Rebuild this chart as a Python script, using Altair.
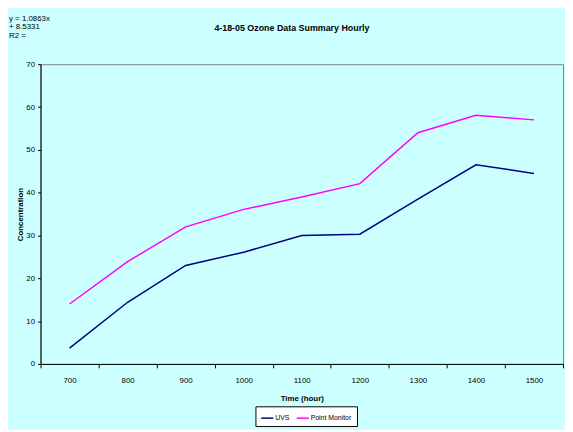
import altair as alt
import pandas as pd

hours = ["700", "800", "900", "1000", "1100", "1200", "1300", "1400", "1500"]
uvs = [3.7, 14.4, 23.0, 26.1, 30.0, 30.3, 38.5, 46.5, 44.5]
point_monitor = [14.0, 23.9, 32.0, 36.1, 39.0, 42.1, 54.0, 58.1, 57.0]
series_names = ["UVS", "Point Monitor"]
series_colors = ["#000080", "#FF00FF"]
fit_lines = ["y = 1.0863x", "+ 8.5331", "R2 ="]
title_text = ["4-18-05 Ozone Data Summary Hourly"]

rows = []
for h, v in zip(hours, uvs):
    rows.append({"hour": h, "value": v, "series": series_names[0]})
for h, v in zip(hours, point_monitor):
    rows.append({"hour": h, "value": v, "series": series_names[1]})
df = pd.DataFrame(rows)

FONT = "Liberation Sans"

lines = alt.Chart(df).mark_line(strokeWidth=1.5).encode(
    x=alt.X("hour:O", sort=hours, bandPosition=0.5,
            scale=alt.Scale(type="band", paddingInner=0, paddingOuter=0),
            axis=alt.Axis(title="Time (hour)", labelAngle=0, tickBand="extent",
                          tickSize=4, labelPadding=9, titlePadding=10,
                          labelFontSize=8, titleFontSize=8, titleFontWeight="bold",
                          domainColor="black", tickColor="black", labelColor="black",
                          titleColor="black", grid=False, labelFont=FONT, titleFont=FONT)),
    y=alt.Y("value:Q",
            scale=alt.Scale(domain=[0, 70], nice=False),
            axis=alt.Axis(title="Concentration", values=[0, 10, 20, 30, 40, 50, 60, 70],
                          tickSize=3, labelPadding=3, titlePadding=1,
                          labelFontSize=8, titleFontSize=8, titleFontWeight="bold",
                          domainColor="black", tickColor="black", labelColor="black",
                          titleColor="black", grid=False, labelFont=FONT, titleFont=FONT)),
    color=alt.Color("series:N", sort=series_names,
                    scale=alt.Scale(domain=series_names, range=series_colors),
                    legend=alt.Legend(title=None, orient="none", direction="horizontal",
                                      legendX=218, legendY=347,
                                      symbolType="stroke", symbolSize=150, symbolStrokeWidth=1.5,
                                      labelFontSize=7, labelFont=FONT, labelColor="black",
                                      strokeColor="black", fillColor="white",
                                      padding=5, columnPadding=3, labelOffset=1)),
)

fit_text = alt.Chart(pd.DataFrame({"a": [0]})).mark_text(
    text=fit_lines, align="left", baseline="middle", fontSize=8, lineHeight=8.5,
    font=FONT, color="black"
).encode(x=alt.value(-32), y=alt.value(-46))

title_mark = alt.Chart(pd.DataFrame({"a": [0]})).mark_text(
    text=title_text[0], align="center", baseline="middle", fontSize=9, fontWeight="bold",
    font=FONT, color="black"
).encode(x=alt.value(255), y=alt.value(-37))

chart = alt.layer(lines, fit_text, title_mark).properties(
    width=530, height=304,
    background="#CCFFFF",
    padding={"left": 33, "top": 54, "right": 2, "bottom": 64},
    autosize=alt.AutoSizeParams(type="none"),
).configure_view(stroke="#808080", strokeWidth=1)

chart.save("out.html", embed_options={"renderer": "svg", "actions": False})
